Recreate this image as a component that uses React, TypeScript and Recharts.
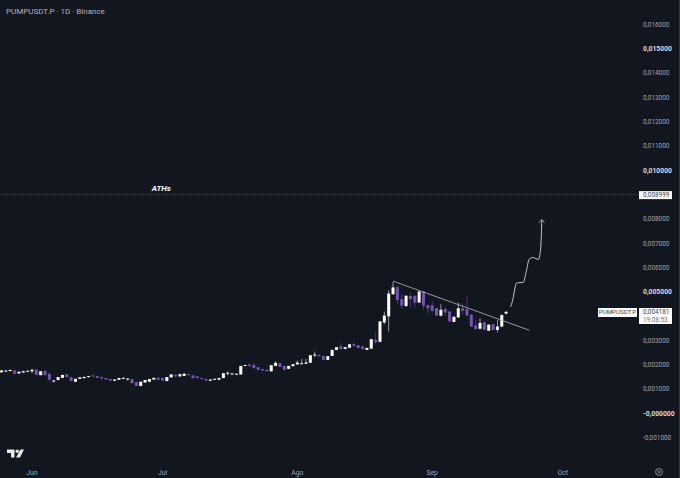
import {
  Bar,
  ComposedChart,
  Line,
  ReferenceDot,
  ReferenceLine,
  XAxis,
  YAxis,
} from "recharts";

// candle prices, in 0.00001 units, one per day starting 25 May
const firstDay = -7;
const opens = [
  169, 173, 175, 176, 164, 168, 172, 173, 180, 157, 175, 163, 133, 137, 146, 160, 149, 130, 142, 145,
  149, 156, 153, 149, 145, 141, 134, 138, 143, 141, 141, 128, 113, 127, 130, 139, 146, 146, 133, 148,
  158, 152, 154, 161, 156, 152, 145, 141, 134, 139, 139, 145, 163, 160, 160, 160, 195, 201, 199, 190,
  182, 179, 173, 195, 206, 195, 183, 194, 201, 204, 204, 208, 239, 240, 236, 220, 236, 261, 276, 265,
  270, 285, 280, 275, 261, 266, 302, 294, 374, 399, 490, 520, 470, 441, 483, 484, 456, 501, 445, 444,
  433, 402, 429, 419, 376, 395, 432, 429, 406, 361, 348, 374, 340, 367, 343, 357, 410,
];
const highs = [
  178, 177, 180, 178, 172, 175, 176, 183, 181, 173, 176, 164, 135, 149, 158, 161, 150, 142, 148, 150,
  153, 158, 154, 150, 148, 142, 141, 146, 149, 144, 142, 130, 130, 137, 141, 146, 148, 147, 149, 160,
  160, 161, 164, 165, 157, 153, 147, 142, 140, 143, 146, 165, 172, 164, 163, 195, 199, 206, 206, 191,
  183, 180, 198, 213, 207, 196, 195, 202, 217, 224, 224, 239, 254, 242, 237, 235, 261, 272, 288, 272,
  285, 291, 281, 276, 270, 305, 333, 379, 419, 507, 541, 522, 493, 485, 497, 485, 503, 504, 449, 463,
  434, 449, 436, 420, 399, 456, 452, 484, 407, 384, 391, 381, 366, 368, 384, 408, 419,
];
const lows = [
  167, 171, 173, 158, 163, 167, 171, 165, 158, 156, 156, 128, 126, 135, 145, 148, 131, 128, 141, 143,
  148, 150, 145, 142, 137, 133, 133, 137, 142, 135, 122, 111, 111, 126, 128, 138, 137, 134, 131, 146,
  150, 150, 153, 156, 143, 143, 140, 133, 133, 138, 135, 144, 156, 158, 159, 159, 194, 194, 179, 175,
  173, 172, 172, 194, 190, 175, 182, 193, 200, 203, 203, 207, 231, 233, 219, 219, 235, 260, 263, 264,
  269, 272, 268, 263, 260, 265, 288, 293, 367, 337, 489, 449, 429, 440, 436, 436, 455, 426, 411, 414,
  400, 398, 402, 377, 375, 392, 404, 399, 356, 343, 346, 343, 339, 342, 333, 354, 409,
];
const closes = [
  176, 176, 178, 163, 171, 173, 175, 179, 158, 173, 157, 138, 135, 149, 158, 149, 133, 142, 148, 150,
  153, 152, 146, 143, 139, 134, 139, 145, 146, 143, 124, 113, 130, 137, 141, 146, 138, 135, 149, 160,
  152, 161, 163, 157, 145, 145, 141, 135, 139, 142, 145, 165, 167, 164, 163, 195, 199, 195, 187, 179,
  176, 173, 198, 208, 191, 179, 195, 202, 209, 206, 209, 239, 242, 235, 220, 235, 261, 272, 264, 272,
  284, 278, 269, 264, 269, 305, 292, 378, 402, 493, 518, 466, 443, 484, 470, 456, 501, 443, 432, 422,
  402, 426, 415, 378, 397, 432, 422, 402, 357, 347, 372, 343, 365, 343, 357, 404, 418,
];

const monthDays = [0, 30, 61, 92, 122];
const monthLabels = ["Jun", "Jul", "Ago", "Sep", "Oct"];
const priceTicks = [
  0.016, 0.015, 0.014, 0.013, 0.012, 0.011, 0.01, 0.008999, 0.008, 0.007, 0.006, 0.005, 0.003, 0.002, 0.001, 0, -0.001,
];
const strongTicks = [0.015, 0.01, 0.005, 0];
const athPrice = 0.008999;

const trendLine = [
  { x: 83, y: 0.00544 },
  { x: 114.3, y: 0.00342 },
];
const pathDays = [110, 110.5, 111, 111.3, 111.9, 112.9, 113.6, 114.3, 115.2, 116.4, 116.9, 117.1, 117.2];
const pathPrices = [
  0.00438, 0.00465, 0.00513, 0.00534, 0.00538, 0.00538, 0.00581, 0.00634, 0.00641, 0.00633, 0.00671, 0.00739, 0.00795,
];
const arrowDays = [116.5, 117.2, 117.8];
const arrowPrices = [0.00784, 0.00798, 0.00784];

const candles = opens.map((open, i) => ({
  day: firstDay + i,
  open: open / 100000,
  close: closes[i] / 100000,
  high: highs[i] / 100000,
  low: lows[i] / 100000,
  range: [lows[i] / 100000, highs[i] / 100000],
}));
const pathData = pathDays.map((day, i) => ({ day, price: pathPrices[i] }));
const arrowData = arrowDays.map((day, i) => ({ day, price: arrowPrices[i] }));

const BG = "#12161f";
const PURPLE = "#7355b5";
const FONT = "Roboto, sans-serif";
const BODY_WIDTH = 3;

function Candle(props: any) {
  const { x, y, width, height, payload } = props;
  const { open, close, high, low } = payload;
  const perPrice = height / (high - low);
  const top = y + (high - Math.max(open, close)) * perPrice;
  const bottom = y + (high - Math.min(open, close)) * perPrice;
  const color = close >= open ? "#ffffff" : PURPLE;
  const center = x + width / 2;
  return (
    <g>
      <line x1={center} x2={center} y1={y} y2={y + height} stroke={color} strokeWidth={0.7} opacity={0.8} />
      <rect x={center - BODY_WIDTH / 2} y={top} width={BODY_WIDTH} height={Math.max(bottom - top, 1)} fill={color} />
    </g>
  );
}

function PriceTick(props: any) {
  const { x, y, payload } = props;
  const value = payload.value as number;
  let label = Math.abs(value).toFixed(6).replace(".", ",");
  if (value <= 0) label = "-" + label;
  if (value === athPrice) {
    return (
      <g>
        <rect x={x - 11} y={y - 3.5} width={33} height={8} fill="#ffffff" />
        <text x={x - 7} y={y + 2.6} fontSize={6.4} fontFamily={FONT} fill="#3a3d46">
          {label}
        </text>
      </g>
    );
  }
  const strong = strongTicks.includes(value);
  return (
    <text
      x={x - 7}
      y={y + 2.4}
      fontSize={strong ? 6.8 : 6.4}
      fontWeight={strong ? 700 : 400}
      fontFamily={FONT}
      fill={strong ? "#d8dae0" : "#a3a6af"}
    >
      {label}
    </text>
  );
}

export default function App() {
  return (
    <div style={{ position: "absolute", left: 0, top: 0, width: 680, height: 478, background: BG, overflow: "hidden" }}>
      <ComposedChart
        width={680}
        height={478}
        data={candles}
        margin={{ top: 0, right: 0, bottom: 0, left: 0 }}
      >
        <XAxis
          dataKey="day"
          type="number"
          domain={[-7.356, 140.23]}
          ticks={monthDays}
          tickFormatter={(day: number) => monthLabels[monthDays.indexOf(day)]}
          height={16}
          axisLine={false}
          tickLine={false}
          tick={{ fontSize: 6.8, fontFamily: FONT, fill: "#a3a6af" }}
          tickMargin={2}
          interval={0}
        />
        <YAxis
          orientation="right"
          width={38}
          domain={[-0.002004, 0.017008]}
          ticks={priceTicks}
          tick={<PriceTick />}
          axisLine={false}
          tickLine={false}
          interval={0}
        />
        <ReferenceLine y={athPrice} stroke="#4a4e58" strokeWidth={0.8} strokeDasharray="1 1" />
        <ReferenceDot
          x={29.7}
          y={0.00925}
          r={0}
          fill="none"
          stroke="none"
          label={{
            value: "ATHs",
            position: "center",
            fill: "#ffffff",
            fontSize: 8,
            fontStyle: "italic",
            fontWeight: 700,
            fontFamily: FONT,
          }}
        />
        <Bar dataKey="range" barSize={3} shape={<Candle />} isAnimationActive={false} />
        <ReferenceLine segment={trendLine} stroke="#b5b7bd" strokeWidth={0.8} />
        <Line
          data={pathData}
          dataKey="price"
          type="monotone"
          stroke="#c5c7cc"
          strokeWidth={1}
          dot={false}
          isAnimationActive={false}
        />
        <Line
          data={arrowData}
          dataKey="price"
          type="linear"
          stroke="#c5c7cc"
          strokeWidth={0.8}
          dot={false}
          isAnimationActive={false}
        />
      </ComposedChart>

      <div style={{ position: "absolute", left: 6, top: 7, fontFamily: FONT, fontSize: 8, color: "#b2b5be", whiteSpace: "nowrap" }}>
        PUMPUSDT.P · 1D · Binance
      </div>

      {/* last price tag */}
      <div style={{ position: "absolute", left: 598, top: 308, width: 39, height: 9, background: "#fff", color: "#3a3d46", fontFamily: FONT, fontSize: 6.2, lineHeight: "9px", textAlign: "center" }}>
        PUMPUSDT.P
      </div>
      <div style={{ position: "absolute", left: 639, top: 308, width: 33, height: 16, background: "#fff", color: "#3a3d46", fontFamily: FONT, fontSize: 6.4, lineHeight: "8px", paddingLeft: 4, boxSizing: "border-box" }}>
        0,004181
        <br />
        <span style={{ color: "#6b6f78" }}>19:08:53</span>
      </div>

      {/* logo, settings button and the edge strip */}
      <svg style={{ position: "absolute", left: 0, top: 0 }} width={680} height={478}>
        <polygon points="7,449.5 14.5,449.5 14.5,457.5 11,457.5 11,453 7,453" fill="#e8e9ec" />
        <circle cx={17.3} cy={451.3} r={1.8} fill="#e8e9ec" />
        <polygon points="20.5,449.5 24,449.5 20,457.5 16,457.5" fill="#e8e9ec" />
        <circle cx={659} cy={472} r={3.4} fill="none" stroke="#a3a6af" strokeWidth={0.8} />
        <circle cx={659} cy={472} r={1.2} fill="none" stroke="#a3a6af" strokeWidth={0.7} />
        <rect x={679} y={0} width={1} height={478} fill="#34363d" />
      </svg>
    </div>
  );
}
